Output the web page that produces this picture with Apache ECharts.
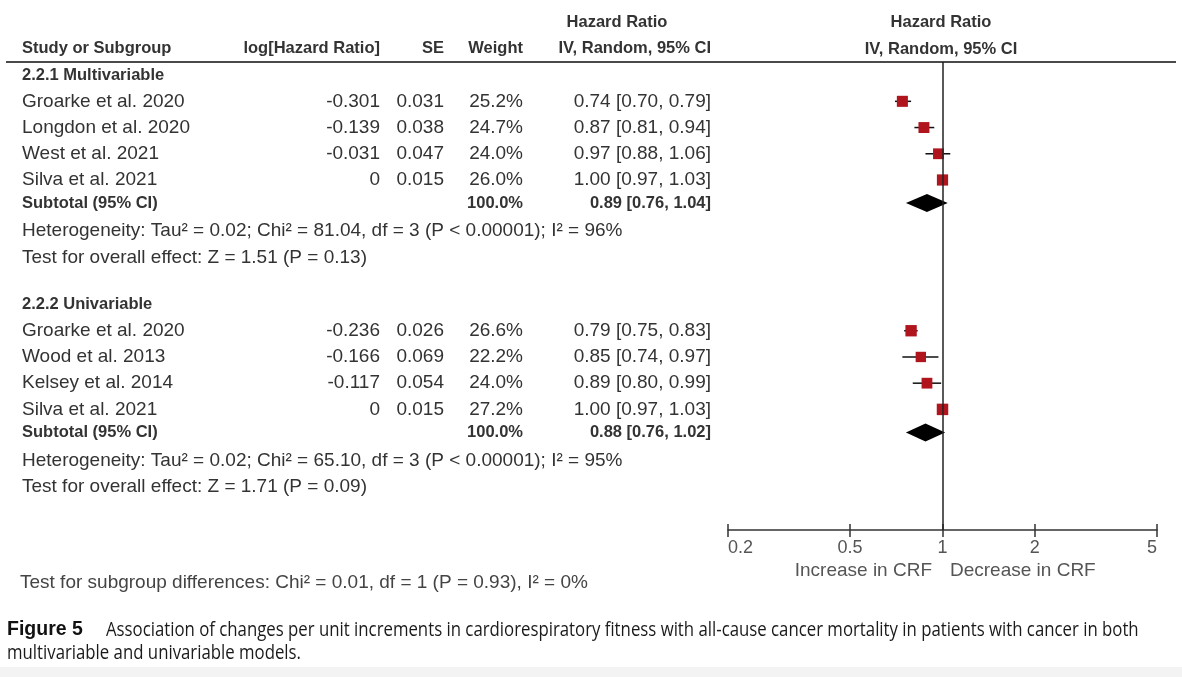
<!DOCTYPE html>
<html>
<head>
<meta charset="utf-8">
<script src="https://cdn.jsdelivr.net/npm/echarts@6/dist/echarts.min.js"></script>
<style>
html, body { margin: 0; padding: 0; background: #fff; }
#chart { width: 1182px; height: 677px; }
</style>
</head>
<body>
<div id="chart"></div>
<script>
// data
const subgroupNames = ['2.2.1 Multivariable', '2.2.2 Univariable'];
const studyNames = ['Groarke et al. 2020', 'Longdon et al. 2020', 'West et al. 2021', 'Silva et al. 2021',
                    'Groarke et al. 2020', 'Wood et al. 2013', 'Kelsey et al. 2014', 'Silva et al. 2021'];
const studyGroup = [0, 0, 0, 0, 1, 1, 1, 1];
const logHR = [-0.301, -0.139, -0.031, 0, -0.236, -0.166, -0.117, 0];
const se = [0.031, 0.038, 0.047, 0.015, 0.026, 0.069, 0.054, 0.015];
const weight = [25.2, 24.7, 24.0, 26.0, 26.6, 22.2, 24.0, 27.2];
const hr = [0.74, 0.87, 0.97, 1.00, 0.79, 0.85, 0.89, 1.00];
const hrLow = [0.70, 0.81, 0.88, 0.97, 0.75, 0.74, 0.80, 0.97];
const hrHigh = [0.79, 0.94, 1.06, 1.03, 0.83, 0.97, 0.99, 1.03];
const subtotalHR = [0.89, 0.88];
const subtotalLow = [0.76, 0.76];
const subtotalHigh = [1.04, 1.02];
const heterogeneity = ['Heterogeneity: Tau\u00b2 = 0.02; Chi\u00b2 = 81.04, df = 3 (P < 0.00001); I\u00b2 = 96%',
                       'Heterogeneity: Tau\u00b2 = 0.02; Chi\u00b2 = 65.10, df = 3 (P < 0.00001); I\u00b2 = 95%'];
const overallEffect = ['Test for overall effect: Z = 1.51 (P = 0.13)',
                       'Test for overall effect: Z = 1.71 (P = 0.09)'];
const subgroupTest = 'Test for subgroup differences: Chi\u00b2 = 0.01, df = 1 (P = 0.93), I\u00b2 = 0%';
const xTicks = [0.2, 0.5, 1, 2, 5];
const caption = ['Association of changes per unit increments in cardiorespiratory fitness with all-cause cancer mortality in patients with cancer in both',
                 'multivariable and univariable models.'];

// layout
const groupStart = [0, 8.75];
const col = { name: 22, logHR: 380, se: 444, weight: 523, ci: 711 };
const regFont = '19px "Liberation Sans", Arial, sans-serif';
const boldFont = 'bold 16.5px "Liberation Sans", Arial, sans-serif';
const capFont = '19.5px "Open Sans", sans-serif';
const textColor = '#333';

function txt(text, x, y, align, bold) {
    return {
        type: 'text', x: x, y: y,
        style: { text: text, textAlign: align, textVerticalAlign: 'middle', font: bold ? boldFont : regFont, fill: textColor }
    };
}

function ciText(m, lo, hi) {
    return m.toFixed(2) + ' [' + lo.toFixed(2) + ', ' + hi.toFixed(2) + ']';
}

const studyData = studyNames.map((n, i) => {
    const g = studyGroup[i];
    const k = studyGroup.slice(0, i).filter(v => v === g).length;
    return [hr[i], hrLow[i], hrHigh[i], groupStart[g] + 1 + k, i];
});

const subtotalData = subtotalHR.map((v, g) => [v, subtotalLow[g], subtotalHigh[g], groupStart[g] + 4.88, g]);

const noteData = [];
subgroupNames.forEach((s, g) => {
    noteData.push([1, groupStart[g], g, 0]);
    noteData.push([1, groupStart[g] + 5.95, g, 1]);
    noteData.push([1, groupStart[g] + 6.95, g, 2]);
});

function renderStudy(params, api) {
    const i = api.value(4);
    const row = api.value(3);
    const c = api.coord([api.value(0), row]);
    const lo = api.coord([api.value(1), row]);
    const hi = api.coord([api.value(2), row]);
    const s = 11 * Math.sqrt(weight[i] / 25);
    return {
        type: 'group',
        children: [
            { type: 'line', shape: { x1: lo[0], y1: c[1], x2: hi[0], y2: c[1] }, style: { stroke: '#111', lineWidth: 1.5 } },
            { type: 'rect', shape: { x: c[0] - s / 2, y: c[1] - s / 2, width: s, height: s }, style: { fill: '#b0141c' } },
            txt(studyNames[i], col.name, c[1], 'left'),
            txt(String(logHR[i]), col.logHR, c[1], 'right'),
            txt(String(se[i]), col.se, c[1], 'right'),
            txt(weight[i].toFixed(1) + '%', col.weight, c[1], 'right'),
            txt(ciText(hr[i], hrLow[i], hrHigh[i]), col.ci, c[1], 'right')
        ]
    };
}

function renderSubtotal(params, api) {
    const g = api.value(4);
    const row = api.value(3);
    const c = api.coord([api.value(0), row]);
    const lo = api.coord([api.value(1), row]);
    const hi = api.coord([api.value(2), row]);
    const h = 9;
    return {
        type: 'group',
        children: [
            { type: 'polygon', shape: { points: [[lo[0], c[1]], [c[0], c[1] - h], [hi[0], c[1]], [c[0], c[1] + h]] }, style: { fill: '#000' } },
            txt('Subtotal (95% CI)', col.name, c[1], 'left', true),
            txt('100.0%', col.weight, c[1], 'right', true),
            txt(ciText(subtotalHR[g], subtotalLow[g], subtotalHigh[g]), col.ci, c[1], 'right', true)
        ]
    };
}

function renderNote(params, api) {
    const g = api.value(2);
    const kind = api.value(3);
    const y = api.coord([1, api.value(1)])[1];
    if (kind === 0) return txt(subgroupNames[g], col.name, y, 'left', true);
    if (kind === 1) return txt(heterogeneity[g], col.name, y, 'left');
    return txt(overallEffect[g], col.name, y, 'left');
}

const chart = echarts.init(document.getElementById('chart'), null, { renderer: 'canvas' });

chart.setOption({
    animation: false,
    backgroundColor: '#fff',
    grid: [
        { left: 728, right: 25, top: 62, bottom: 147, containLabel: false, outerBoundsMode: 'none' },
        // thin strip just above the axis, only used for the upper half of the ticks
        { left: 728, right: 25, top: 520, bottom: 147, containLabel: false, outerBoundsMode: 'none' }
    ],
    xAxis: [
        {
            type: 'log', logBase: 10, min: 0.2, max: 5, gridIndex: 0, position: 'bottom',
            splitLine: { show: false },
            axisLine: { show: true, onZero: false, lineStyle: { color: '#333', width: 1.5 } },
            axisTick: { show: true, inside: false, length: 7, customValues: xTicks, lineStyle: { color: '#333', width: 1.5 } },
            axisLabel: {
                show: true, customValues: xTicks, margin: 9, color: '#555',
                fontFamily: '"Liberation Sans", Arial, sans-serif', fontSize: 18,
                alignMinLabel: 'left', alignMaxLabel: 'right',
                formatter: v => String(+(+v).toFixed(1))
            }
        },
        {
            type: 'log', logBase: 10, min: 0.2, max: 5, gridIndex: 1, position: 'bottom',
            splitLine: { show: false },
            axisLine: { show: false, onZero: false },
            axisTick: { show: true, inside: true, length: 6, customValues: xTicks, lineStyle: { color: '#333', width: 1.5 } },
            axisLabel: { show: false }
        }
    ],
    yAxis: [
        { type: 'value', min: -0.5, max: 17.35, inverse: true, show: false, gridIndex: 0 },
        { type: 'value', min: 0, max: 1, show: false, gridIndex: 1 }
    ],
    series: [
        {
            type: 'custom', name: 'studies', clip: false,
            renderItem: renderStudy, data: studyData,
            encode: { x: [0, 1, 2], y: 3 },
            markLine: {
                silent: true, symbol: 'none', label: { show: false },
                lineStyle: { color: '#222', width: 1.5, type: 'solid' },
                data: [{ xAxis: 1 }]
            }
        },
        {
            type: 'custom', name: 'subtotals', clip: false,
            renderItem: renderSubtotal, data: subtotalData,
            encode: { x: [0, 1, 2], y: 3 }
        },
        {
            type: 'custom', name: 'notes', clip: false,
            renderItem: renderNote, data: noteData,
            encode: { x: 0, y: 1 }
        }
    ],
    graphic: [
        { type: 'rect', shape: { x: 0, y: 667, width: 1182, height: 10 }, style: { fill: '#f3f3f3' }, z: -1 },
        { type: 'line', shape: { x1: 6, y1: 62, x2: 1176, y2: 62 }, style: { stroke: '#4a4a4a', lineWidth: 2 } },
        txt('Study or Subgroup', col.name, 48, 'left', true),
        txt('log[Hazard Ratio]', col.logHR, 48, 'right', true),
        txt('SE', col.se, 48, 'right', true),
        txt('Weight', col.weight, 48, 'right', true),
        txt('Hazard Ratio', 617, 22, 'center', true),
        txt('IV, Random, 95% CI', col.ci, 48, 'right', true),
        txt('Hazard Ratio', 941, 22, 'center', true),
        txt('IV, Random, 95% CI', 941, 49, 'center', true),
        { type: 'text', x: 932, y: 571, style: { text: 'Increase in CRF', textAlign: 'right', textVerticalAlign: 'middle', font: regFont, fill: '#555' } },
        { type: 'text', x: 950, y: 571, style: { text: 'Decrease in CRF', textAlign: 'left', textVerticalAlign: 'middle', font: regFont, fill: '#555' } },
        { type: 'text', x: 20, y: 583, style: { text: subgroupTest, textAlign: 'left', textVerticalAlign: 'middle', font: regFont, fill: '#444' } },
        { type: 'text', x: 7, y: 630, style: { text: 'Figure 5', textAlign: 'left', textVerticalAlign: 'middle', font: 'bold 19.5px "Liberation Sans", Arial, sans-serif', fill: '#111' } },
        { type: 'text', x: 106, y: 630, scaleX: 0.86, style: { text: caption[0], textAlign: 'left', textVerticalAlign: 'middle', font: capFont, fill: '#1a1a1a' } },
        { type: 'text', x: 7, y: 653, scaleX: 0.86, style: { text: caption[1], textAlign: 'left', textVerticalAlign: 'middle', font: capFont, fill: '#1a1a1a' } }
    ]
});
</script>
</body>
</html>
